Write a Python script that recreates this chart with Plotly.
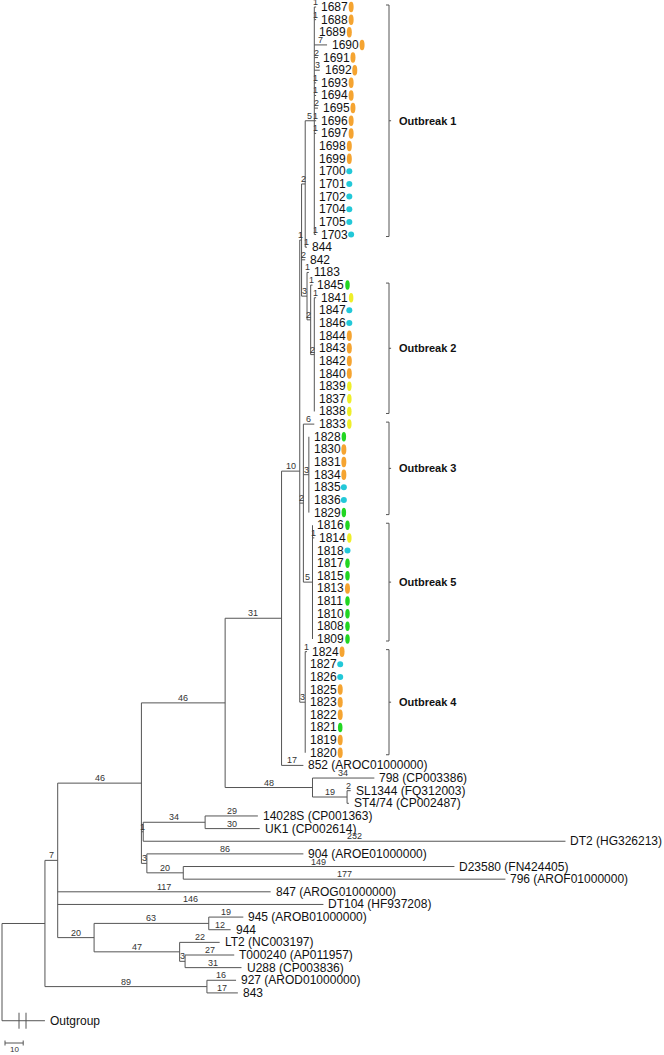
import plotly.graph_objects as go

# ---------------- data ----------------
# backbone tree: internal nodes and reference strains, pre-order, children top-to-bottom
node_ids = ["root", "R1", "A", "C", "H", "M", "O", "V2", "V1", "OB1", "844", "842", "W3", "1183", "W2", "1845", "W1",
            "Q", "1833", "OB3", "OB5", "OB4",
            "852 (AROC01000000)", "N", "798 (CP003386)", "P", "SL1344 (FQ312003)", "ST4/74 (CP002487)",
            "I", "J", "14028S (CP001363)", "UK1 (CP002614)", "DT2 (HG326213)",
            "K", "904 (AROE01000000)", "L", "D23580 (FN424405)", "796 (AROF01000000)",
            "847 (AROG01000000)", "DT104 (HF937208)",
            "D", "E", "945 (AROB01000000)", "944", "F", "LT2 (NC003197)", "G", "T000240 (AP011957)", "U288 (CP003836)",
            "B", "927 (AROD01000000)", "843", "Outgroup"]
node_parents = [None, "root", "R1", "A", "C", "H", "M", "O", "V2", "V1", "V1", "V2", "V2", "W3", "W3", "W2", "W2",
                "O", "Q", "Q", "Q", "O",
                "M", "H", "N", "N", "P", "P",
                "C", "I", "J", "J", "I",
                "C", "K", "K", "L", "L",
                "A", "A",
                "A", "D", "E", "E", "D", "F", "F", "G", "G",
                "R1", "B", "B", "root"]
branch_lengths = [0, 23.6, 7, 46, 46, 31, 10, 1, 2, 5, 1, 2, 3, 1, 2, 1, 2,
                  2, 6, 3, 5, 3,
                  12, 48, 34, 19, 2, 1,
                  1, 34, 29, 30, 232,
                  3, 86, 20, 149, 177,
                  117, 146,
                  20, 63, 19, 12, 47, 22, 3, 27, 31,
                  89, 16, 17, 23.6]
branch_labels = ["", "", "7", "46", "46", "31", "10", "1", "2", "5", "1", "2", "3", "1", "2", "1", "2",
                 "2", "6", "3", "5", "3",
                 "17", "48", "34", "19", "2", "",
                 "1", "34", "29", "30", "232",
                 "3", "86", "20", "149", "177",
                 "117", "146",
                 "20", "63", "19", "12", "47", "22", "3", "27", "31",
                 "89", "16", "17", ""]
broken_branches = ["Outgroup"]

# outbreak isolates (tips), per cluster node
ob1_tips = ["1687", "1688", "1689", "1690", "1691", "1692", "1693", "1694", "1695", "1696", "1697", "1698", "1699",
            "1700", "1701", "1702", "1704", "1705", "1703"]
ob1_lengths = [1, 1, 0, 7, 2, 3, 1, 1, 2, 1, 1, 0, 0, 0, 0, 0, 0, 0, 1]
ob2_tips = ["1841", "1847", "1846", "1844", "1843", "1842", "1840", "1839", "1837", "1838"]
ob2_lengths = [1, 0, 0, 0, 0, 0, 0, 0, 0, 0]
ob3_tips = ["1828", "1830", "1831", "1834", "1835", "1836", "1829"]
ob3_lengths = [0, 0, 0, 0, 0, 0, 0]
ob5_tips = ["1816", "1814", "1818", "1817", "1815", "1813", "1811", "1810", "1808", "1809"]
ob5_lengths = [0, 1, 0, 0, 0, 0, 0, 0, 0, 0]
ob4_tips = ["1824", "1827", "1826", "1825", "1823", "1822", "1821", "1819", "1820"]
ob4_lengths = [1, 0, 0, 0, 0, 0, 0, 0, 0]

# source symbol next to isolates: o=orange, c=cyan, g=green, y=yellow
marked_tips = ob1_tips + ["1845"] + ob2_tips + ["1833"] + ob3_tips + ob5_tips + ob4_tips
marked_codes = (["o"] * 13 + ["c"] * 6 +
                ["g"] + ["y", "c", "c", "o", "o", "o", "o", "y", "y", "y"] +
                ["y"] +
                ["g", "o", "o", "o", "c", "c", "g"] +
                ["g", "y", "c", "g", "g", "o", "g", "g", "g", "g"] +
                ["o", "c", "c", "o", "o", "o", "g", "o", "o"])

outbreak_names = ["Outbreak 1", "Outbreak 2", "Outbreak 3", "Outbreak 5", "Outbreak 4"]
outbreak_first = ["1687", "1845", "1833", "1816", "1824"]
outbreak_last = ["1703", "1838", "1829", "1809", "1820"]

scale_bar_length = 10

# ---------------- assemble tree ----------------
ids = list(node_ids)
parents = list(node_parents)
lengths = list(branch_lengths)
labels = list(branch_labels)
for clade, tips, lens in [("OB1", ob1_tips, ob1_lengths), ("W1", ob2_tips, ob2_lengths),
                          ("OB3", ob3_tips, ob3_lengths), ("OB5", ob5_tips, ob5_lengths),
                          ("OB4", ob4_tips, ob4_lengths)]:
    for t, l in zip(tips, lens):
        ids.append(t)
        parents.append(clade)
        lengths.append(l)
        labels.append(str(l) if l > 0 else "")

children = {}
for n, p in zip(ids, parents):
    children.setdefault(p, []).append(n)
blen = dict(zip(ids, lengths))
blab = dict(zip(ids, labels))
par = dict(zip(ids, parents))

# ---------------- layout (pixel mapping) ----------------
W, H = 664, 1055
PX_PER_UNIT = 1.82
X0_PX = 2.0
Y0_PX = 7.0
ROW_PX = 12.64
ROW_GAP_BEFORE = {"Outgroup": 1.2}
FONT = "Arial, Liberation Sans, sans-serif"

xpos = {}
ypos = {}
order = []


def place_x(n, x):
    xpos[n] = x
    for c in children.get(n, []):
        place_x(c, x + blen[c])


counter = [0.0]


def place_y(n):
    kids = children.get(n, [])
    if not kids:
        counter[0] += ROW_GAP_BEFORE.get(n, 0)
        ypos[n] = counter[0]
        order.append(n)
        counter[0] += 1
        return ypos[n]
    ys_ = [place_y(c) for c in kids]
    ypos[n] = (ys_[0] + ys_[-1]) / 2
    return ypos[n]


place_x("root", 0.0)
place_y("root")


def u_from_px(px):
    return px / PX_PER_UNIT


line_color = "#555555"
xs, ys = [], []
for n in ids:
    p = par[n]
    if p is not None:
        xs += [xpos[p], xpos[n], None]
        ys += [ypos[n], ypos[n], None]
    kids = children.get(n, [])
    if kids:
        xs += [xpos[n], xpos[n], None]
        ys += [ypos[kids[0]], ypos[kids[-1]], None]

fig = go.Figure()
fig.add_trace(go.Scatter(x=xs, y=ys, mode="lines", line=dict(color=line_color, width=1),
                         hoverinfo="skip", showlegend=False))

# break marks on the shortened outgroup branch
brk_x, brk_y = [], []
for n in broken_branches:
    x_a = xpos["root"] + u_from_px(17)
    x_b = xpos["root"] + u_from_px(24)
    hh = 8 / ROW_PX
    for xb in (x_a, x_b):
        brk_x += [xb, xb, None]
        brk_y += [ypos[n] - hh, ypos[n] + hh, None]
fig.add_trace(go.Scatter(x=brk_x, y=brk_y, mode="lines", line=dict(color=line_color, width=1),
                         hoverinfo="skip", showlegend=False))

annotations = []
# tip names
for t in order:
    annotations.append(dict(x=xpos[t], y=ypos[t], text=t, showarrow=False, xanchor="left", yanchor="middle",
                            xshift=3, font=dict(family=FONT, size=12, color="#111111")))
# branch labels
for n in ids:
    lab = blab[n]
    if lab and par[n] is not None:
        annotations.append(dict(x=xpos[par[n]] + blen[n] / 2, y=ypos[n], text=lab, showarrow=False,
                                xanchor="center", yanchor="bottom", yshift=-1, borderpad=0,
                                font=dict(family=FONT, size=9, color="#333333")))

# symbols
color_map = {"o": "#F5A431", "c": "#22C8D8", "g": "#22D622", "y": "#EEEE2A"}
shapes = []
for t, code in zip(marked_tips, marked_codes):
    cx = xpos[t] + u_from_px(35)
    cy = ypos[t]
    if code == "c":
        wpx, hpx = 6.0, 6.0
    elif code == "o":
        wpx, hpx = 5.0, 10.5
    else:
        wpx, hpx = 4.5, 9.5
    shapes.append(dict(type="circle", xref="x", yref="y",
                       x0=cx - u_from_px(wpx) / 2, x1=cx + u_from_px(wpx) / 2,
                       y0=cy - hpx / ROW_PX / 2, y1=cy + hpx / ROW_PX / 2,
                       fillcolor=color_map[code], line=dict(width=0)))

# outbreak brackets
bx = u_from_px(387)
tick = u_from_px(3)
bxs, bys = [], []
for name, a, b in zip(outbreak_names, outbreak_first, outbreak_last):
    y0 = ypos[a] - 2 / ROW_PX
    y1 = ypos[b] + 2 / ROW_PX
    bxs += [bx - tick, bx, bx, bx - tick, None, bx, bx + tick * 0.7, None]
    bys += [y0, y0, y1, y1, None, (y0 + y1) / 2, (y0 + y1) / 2, None]
    annotations.append(dict(x=bx, y=(y0 + y1) / 2, text="<b>%s</b>" % name, showarrow=False,
                            xanchor="left", yanchor="middle", xshift=8,
                            font=dict(family=FONT, size=11, color="#111111")))
fig.add_trace(go.Scatter(x=bxs, y=bys, mode="lines", line=dict(color=line_color, width=1),
                         hoverinfo="skip", showlegend=False))

# scale bar
sb_y = (1043 - Y0_PX) / ROW_PX
sb_x0 = u_from_px(3)
sb_x1 = sb_x0 + scale_bar_length
th = 2.5 / ROW_PX
fig.add_trace(go.Scatter(x=[sb_x0, sb_x1, None, sb_x0, sb_x0, None, sb_x1, sb_x1],
                         y=[sb_y, sb_y, None, sb_y - th, sb_y + th, None, sb_y - th, sb_y + th],
                         mode="lines", line=dict(color=line_color, width=1), hoverinfo="skip", showlegend=False))
annotations.append(dict(x=(sb_x0 + sb_x1) / 2, y=sb_y, text=str(scale_bar_length), showarrow=False,
                        xanchor="center", yanchor="top", yshift=-1, borderpad=0,
                        font=dict(family=FONT, size=8, color="#333333")))

fig.update_layout(
    width=W, height=H, margin=dict(l=0, r=0, t=0, b=0),
    paper_bgcolor="white", plot_bgcolor="white",
    xaxis=dict(range=[u_from_px(-X0_PX), u_from_px(W - X0_PX)], visible=False, fixedrange=True),
    yaxis=dict(range=[(H - Y0_PX) / ROW_PX, -Y0_PX / ROW_PX], visible=False, fixedrange=True),
    annotations=annotations, shapes=shapes, showlegend=False,
)
fig.write_html("out.html", config={"displayModeBar": False},
               post_script="document.body.style.margin='0px';document.body.style.overflow='hidden';"
                           "document.documentElement.style.overflow='hidden';")
